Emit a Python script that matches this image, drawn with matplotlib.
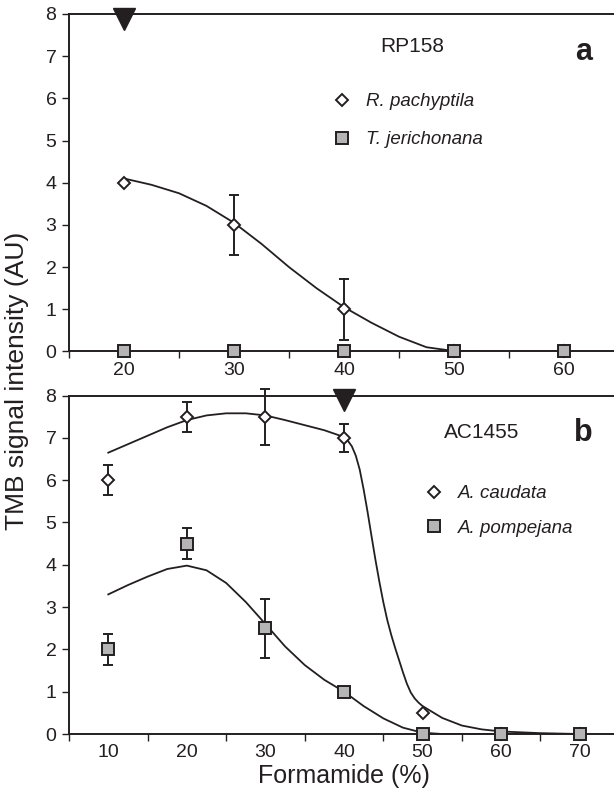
import numpy as np
import matplotlib
matplotlib.use("Agg")
import matplotlib.pyplot as plt

plt.rcParams['font.family'] = ['Liberation Sans', 'DejaVu Sans']

# panel a: RP158 probe
conc_a = [20, 30, 40, 50, 60]
rpach = [4, 3, 1, 0, 0]
rpach_err = [0, 0.72, 0.72, 0, 0]
tjer = [0, 0, 0, 0, 0]
# fitted curve
fit_a_x = [20, 22.5, 25, 27.5, 30, 32.5, 35, 37.5, 40, 42.5, 45, 47.5, 50, 55, 60]
fit_a_y = [4.1, 3.95, 3.75, 3.45, 3.05, 2.55, 2.0, 1.5, 1.05, 0.68, 0.35, 0.1, 0.01, 0.0, 0.0]
arrow_a = 20

# panel b: AC1455 probe
conc_b = [10, 20, 30, 40, 50, 60, 70]
acaud = [6, 7.5, 7.5, 7, 0.5, 0, 0]
acaud_err = [0.36, 0.35, 0.66, 0.33, 0, 0, 0]
apomp = [2, 4.5, 2.5, 1, 0, 0, 0]
apomp_err = [0.36, 0.36, 0.7, 0, 0, 0, 0]
fit_caud_x = [10, 12.5, 15, 17.5, 20, 22.5, 25, 27.5, 30, 32.5, 35, 37.5, 40, 40.5, 41, 41.5,
              42, 42.5, 43, 43.5, 44, 44.5, 45, 45.5, 46, 46.5, 47, 47.5, 48, 48.5, 49, 49.5,
              50, 52.5, 55, 57.5, 60, 65, 70]
fit_caud_y = [6.65, 6.85, 7.05, 7.25, 7.42, 7.53, 7.58, 7.58, 7.53, 7.42, 7.3, 7.18, 7.02, 6.93, 6.8, 6.58,
              6.25, 5.78, 5.25, 4.68, 4.12, 3.6, 3.12, 2.7, 2.35, 2.04, 1.75, 1.46, 1.19, 0.98, 0.84, 0.74,
              0.66, 0.38, 0.2, 0.11, 0.06, 0.02, 0.0]
fit_pomp_x = [10, 12.5, 15, 17.5, 20, 22.5, 25, 27.5, 30, 32.5, 35, 37.5, 40, 42.5, 45, 47.5, 50, 52.5, 55, 60, 70]
fit_pomp_y = [3.3, 3.52, 3.72, 3.9, 3.98, 3.87, 3.57, 3.12, 2.6, 2.07, 1.63, 1.28, 1.0, 0.66, 0.37, 0.15, 0.03, 0.0, 0.0, 0.0, 0.0]
arrow_b = 40

ink = '#231f20'
grey = '#b5b5b5'

fig = plt.figure(figsize=(6.14, 7.93), dpi=100)
ax1 = fig.add_axes([69 / 614, 0.5568, 550 / 614, 0.4256])
ax2 = fig.add_axes([69 / 614, 0.0744, 550 / 614, 0.4268])


def style_axis(ax, lo, hi, cats):
    ax.set_xlim(lo, hi)
    ax.set_ylim(0, 8)
    ax.set_yticks(range(0, 9))
    ax.set_xticks(np.arange(lo, hi + 1, 10))
    ax.set_xticklabels([])
    ax.set_xticks(cats, minor=True)
    ax.set_xticklabels([str(c) for c in cats], minor=True)
    ax.tick_params(axis='x', which='major', direction='out', length=5, width=1, color=ink)
    ax.tick_params(axis='x', which='minor', length=0, pad=7.5, labelsize=14, labelcolor=ink)
    ax.tick_params(axis='y', direction='out', length=5, width=1, color=ink, pad=4,
                   labelsize=14, labelcolor=ink)
    ax.spines['right'].set_visible(False)
    for s in ['left', 'bottom', 'top']:
        ax.spines[s].set_linewidth(1.4)
        ax.spines[s].set_color(ink)


def draw_series(ax, x, y, err, marker, face, ms, label):
    x = np.array(x)
    y = np.array(y)
    err = np.array(err)
    keep = err > 0
    if keep.any():
        eb = ax.errorbar(x[keep], y[keep], yerr=err[keep], fmt='none', ecolor=ink,
                         elinewidth=1.4, capsize=3.5, capthick=1.4, zorder=3)
        for art in list(eb.lines[1]) + list(eb.lines[2]):
            art.set_clip_on(False)
    line, = ax.plot(x, y, linestyle='none', marker=marker, ms=ms, mfc=face,
                    mec=ink, mew=1.4, zorder=5, clip_on=False, label=label)
    return line


legend_kw = dict(loc='upper left', frameon=False, numpoints=1, handlelength=1.0,
                 handletextpad=0.75,
                 prop={'size': 13.5, 'style': 'italic'}, labelcolor=ink)

# ---- panel a ----
style_axis(ax1, 15, 65, conc_a)
ax1.plot(fit_a_x, fit_a_y, color=ink, lw=1.3, zorder=2)
h1 = draw_series(ax1, conc_a, rpach, rpach_err, 'D', 'white', 6.5, 'R. pachyptila')
h2 = draw_series(ax1, conc_a, tjer, [0] * 5, 's', grey, 8, 'T. jerichonana')
ax1.plot([arrow_a], [7.89], marker='v', ms=16, color=ink, clip_on=False, zorder=6)
ax1.text(0.624, 0.905, 'RP158', transform=ax1.transAxes, ha='center', va='center',
         fontsize=15, color=ink)
ax1.text(0.935, 0.887, 'a', transform=ax1.transAxes, ha='center', va='center',
         fontsize=22, fontweight='bold', color=ink)
ax1.legend(handles=[h1, h2], bbox_to_anchor=(0.449, 0.815), labelspacing=1.1, **legend_kw)

# ---- panel b ----
style_axis(ax2, 5, 75, conc_b)
ax2.plot(fit_caud_x, fit_caud_y, color=ink, lw=1.3, zorder=2)
ax2.plot(fit_pomp_x, fit_pomp_y, color=ink, lw=1.3, zorder=2)
h3 = draw_series(ax2, conc_b, acaud, acaud_err, 'D', 'white', 6.5, 'A. caudata')
h4 = draw_series(ax2, conc_b, apomp, apomp_err, 's', grey, 8, 'A. pompejana')
ax2.plot([arrow_b], [7.89], marker='v', ms=16, color=ink, clip_on=False, zorder=6)
ax2.text(0.751, 0.892, 'AC1455', transform=ax2.transAxes, ha='center', va='center',
         fontsize=15, color=ink)
ax2.text(0.935, 0.889, 'b', transform=ax2.transAxes, ha='center', va='center',
         fontsize=22, fontweight='bold', color=ink)
ax2.legend(handles=[h3, h4], bbox_to_anchor=(0.616, 0.785), labelspacing=0.93, **legend_kw)
ax2.set_xlabel('Formamide (%)', fontsize=18, color=ink, labelpad=2)

fig.text(17 / 614, 1 - 381 / 793, 'TMB signal intensity (AU)', rotation=90,
         ha='center', va='center', fontsize=19, color=ink)

fig.savefig('out.png', dpi=100)
